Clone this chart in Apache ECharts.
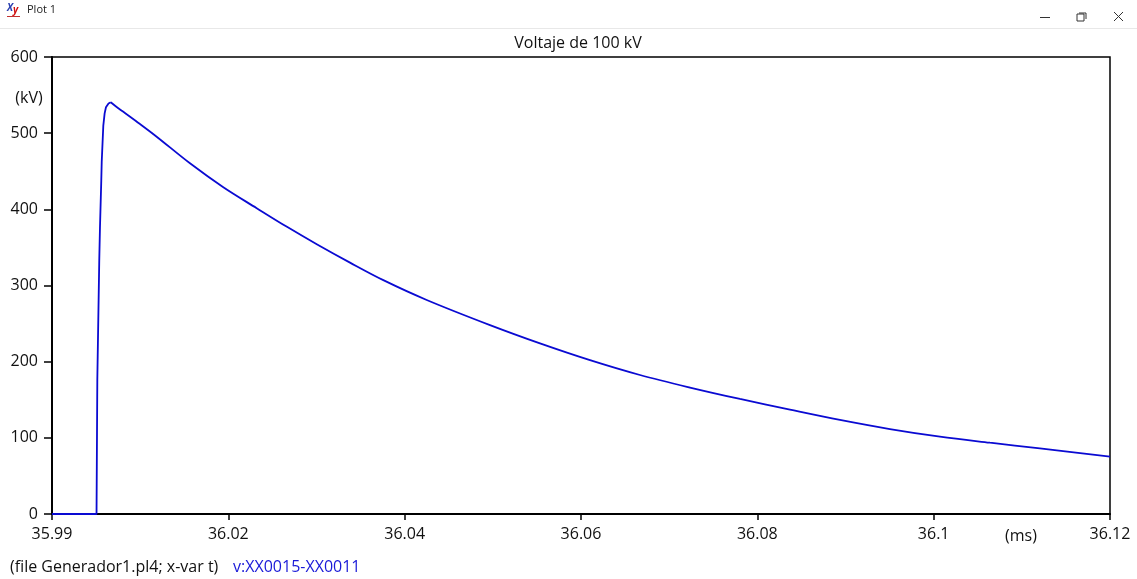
<!DOCTYPE html>
<html>
<head>
<meta charset="utf-8">
<script src="https://cdn.jsdelivr.net/npm/echarts@6/dist/echarts.min.js"></script>
<style>
html,body{margin:0;padding:0;background:#fff;}
#c{width:1137px;height:579px;}
</style>
</head>
<body>
<div id="c"></div>
<script>
// ---- data ----
// front of the impulse (flat zero, then the steep rise up to the crest)
var riseTimes = [36.0, 36.00505, 36.00514, 36.00536, 36.00544, 36.00559, 36.00564, 36.00582, 36.00597, 36.00612, 36.00641, 36.00666];
var riseVolts = [0, 0, 176, 333, 375.5, 438, 462.5, 510, 526, 534, 539, 540.5];
// tail of the impulse (from the crest to the end of the record)
var decayTimes = [36.00666, 36.00726, 36.00809, 36.00998, 36.01187, 36.01565, 36.01943, 36.02322, 36.02665,
  36.03013, 36.0338, 36.03758, 36.0425, 36.04968, 36.05535, 36.06102, 36.06669, 36.07236, 36.07803, 36.0837,
  36.08937, 36.09504, 36.10071, 36.10638, 36.11205, 36.12];
var decayVolts = [540.5, 535, 528, 512, 495.4, 460.4, 429, 401.5, 377,
  353.5, 330, 307, 281, 248, 224, 202, 182.5, 166, 151, 137,
  123.5, 111.5, 101.5, 93.6, 86.2, 75.2];
var xTickValues = [36.00, 36.02, 36.04, 36.06, 36.08, 36.10, 36.12];
var xTickLabels = ['35.99', '36.02', '36.04', '36.06', '36.08', '36.1', '36.12'];
var yTickValues = [0, 100, 200, 300, 400, 500, 600];
var titleText = 'Voltaje de 100 kV';
var xUnit = '(ms)';
var yUnit = '(kV)';
var fileText = '(file Generador1.pl4; x-var t)';
var seriesName = 'v:XX0015-XX0011';
var windowTitle = 'Plot 1';

function pairs(ts, vs) { return ts.map(function (t, i) { return [t, vs[i]]; }); }
var labelMap = {};
xTickValues.forEach(function (v, i) { labelMap[Math.round(v * 100)] = xTickLabels[i]; });

var LINE = '#0a0ad2';
var FONT = '"Open Sans", "Noto Sans", sans-serif';
var chart = echarts.init(document.getElementById('c'), null, {renderer: 'canvas'});
chart.setOption({
  backgroundColor: '#ffffff',
  animation: false,
  title: {
    text: titleText, left: 573, top: 30, textAlign: 'center',
    textStyle: {fontFamily: FONT, fontSize: 16, fontWeight: 'normal', color: '#111'}
  },
  grid: {left: 52, right: 27, top: 57, bottom: 65, show: true, borderColor: '#000', borderWidth: 1.5, backgroundColor: '#fff'},
  xAxis: {
    type: 'value', min: xTickValues[0], max: xTickValues[xTickValues.length - 1], interval: 0.02,
    axisLine: {show: true, lineStyle: {color: '#000', width: 2}},
    axisTick: {show: true, inside: false, length: 6, lineStyle: {color: '#000', width: 1.5}},
    splitLine: {show: false},
    axisLabel: {
      margin: 12, fontFamily: FONT, fontSize: 16, color: '#111', showMinLabel: true, showMaxLabel: true,
      formatter: function (v) { var k = Math.round(v * 100); return labelMap[k] !== undefined ? labelMap[k] : ''; }
    }
  },
  yAxis: {
    type: 'value', min: yTickValues[0], max: yTickValues[yTickValues.length - 1], interval: 100,
    axisLine: {show: true, lineStyle: {color: '#000', width: 2}},
    axisTick: {show: true, inside: false, length: 8, lineStyle: {color: '#000', width: 1.5}},
    splitLine: {show: false},
    axisLabel: {margin: 14, fontFamily: FONT, fontSize: 16, color: '#111'}
  },
  series: [{
    name: seriesName, type: 'line', data: pairs(riseTimes, riseVolts), showSymbol: false, smooth: false,
    lineStyle: {color: LINE, width: 1.8}
  }, {
    name: seriesName, type: 'line', data: pairs(decayTimes, decayVolts), showSymbol: false, smooth: 0.35,
    lineStyle: {color: LINE, width: 1.8}
  }],
  graphic: [
    {type: 'rect', shape: {x: 0, y: 28, width: 1137, height: 1}, style: {fill: '#e8e8e8'}},
    {type: 'text', left: 7, top: 3, style: {text: 'X', fontSize: 10, fontStyle: 'italic', fontWeight: 'bold', fill: '#2a3fb0', fontFamily: FONT}},
    {type: 'text', left: 13, top: 5, style: {text: 'y', fontSize: 10, fontStyle: 'italic', fontWeight: 'bold', fill: '#d01010', fontFamily: FONT}},
    {type: 'rect', shape: {x: 7, y: 16, width: 13, height: 1}, style: {fill: '#c03030'}},
    {type: 'text', left: 27, top: 4, style: {text: windowTitle, fontSize: 11, fill: '#222', fontFamily: FONT}},
    {type: 'rect', shape: {x: 1040, y: 17, width: 10, height: 1}, style: {fill: '#333'}},
    {type: 'rect', shape: {x: 1077, y: 14, width: 7, height: 7}, style: {fill: 'none', stroke: '#333', lineWidth: 1}},
    {type: 'polyline', shape: {points: [[1079, 13], [1086, 13], [1086, 19]]}, style: {fill: 'none', stroke: '#333', lineWidth: 1}},
    {type: 'line', shape: {x1: 1114, y1: 12, x2: 1123, y2: 21}, style: {stroke: '#333', lineWidth: 1}},
    {type: 'line', shape: {x1: 1123, y1: 12, x2: 1114, y2: 21}, style: {stroke: '#333', lineWidth: 1}},
    {type: 'text', x: 29, y: 98, style: {text: yUnit, fontSize: 16, fill: '#111', fontFamily: FONT, align: 'center', verticalAlign: 'middle'}},
    {type: 'text', x: 1021, y: 536, style: {text: xUnit, fontSize: 16, fill: '#111', fontFamily: FONT, align: 'center', verticalAlign: 'middle'}},
    {type: 'text', x: 10, y: 567, style: {text: fileText, fontSize: 16, fill: '#111', fontFamily: FONT, align: 'left', verticalAlign: 'middle'}},
    {type: 'text', x: 233, y: 567, style: {text: seriesName, fontSize: 16, fill: '#1a1ad8', fontFamily: FONT, align: 'left', verticalAlign: 'middle'}}
  ]
});
</script>
</body>
</html>
